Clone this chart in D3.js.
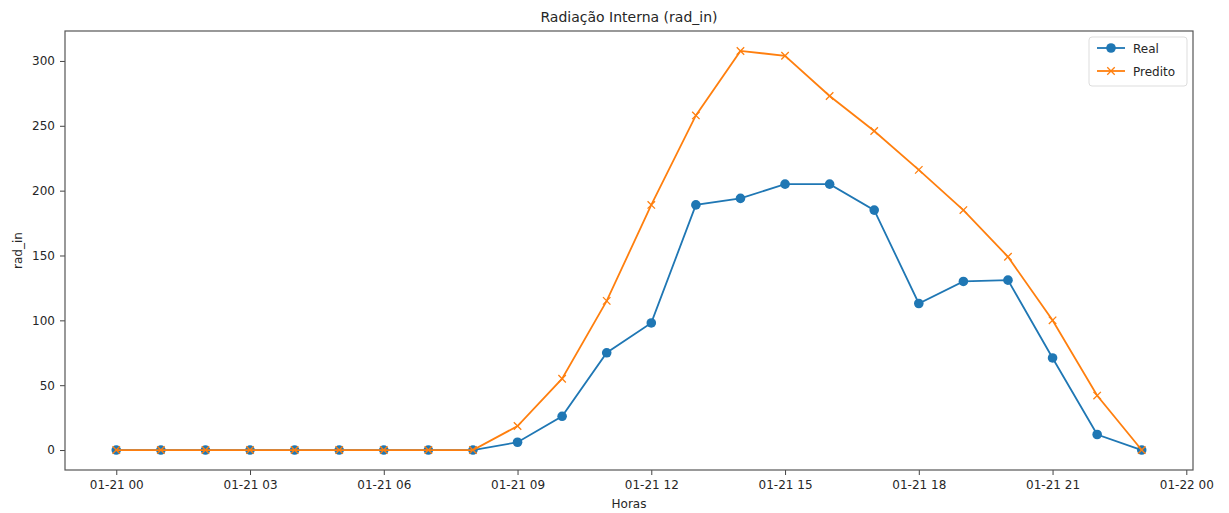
<!DOCTYPE html>
<html>
<head>
<meta charset="utf-8">
<script src="https://cdn.jsdelivr.net/npm/d3@7"></script>
<style>
body{margin:0;background:#fff}
text{font-family:"DejaVu Sans",sans-serif;fill:#262626}
</style>
</head>
<body>
<div id="chart"></div>
<script>
'use strict'
let hours=d3.range(0,24)
let real=[0,0,0,0,0,0,0,0,0,6,26,75,98,189,194,205,205,185,113,130,131,71,12,0]
let predito=[0,0,0,0,0,0,0,0,0,18.5,55,115,189,258,307.7,304,273,246,216,185,149,100,42,0]
let yTicks=[0,50,100,150,200,250,300]
let xTickHours=[0,3,6,9,12,15,18,21,24]
let seriesNames=['Real','Predito']
let colors=['#1f77b4','#ff7f0e']

let width=1229
let height=513
let margin={top:31,right:36,bottom:43,left:65}
let plotW=width-margin.left-margin.right
let plotH=height-margin.top-margin.bottom

let base=new Date(2021,0,21,0)
function toDate(h){return new Date(base.getTime()+h*3600000)}

let xPad=(23-0)*0.05
let x=d3.scaleTime().domain([toDate(-xPad),toDate(23+xPad)]).range([0,plotW])
let yMax=d3.max(predito)
let yPad=yMax*0.05
let y=d3.scaleLinear().domain([-yPad,yMax+yPad]).range([plotH,0])

let svg=d3.select('#chart').append('svg').attr('width',width).attr('height',height)
let g=svg.append('g').attr('transform','translate('+margin.left+','+margin.top+')')

let fmt=d3.timeFormat('%m-%d %H')
let xAxis=d3.axisBottom(x).tickValues(xTickHours.map(toDate)).tickFormat(fmt).tickSize(5).tickPadding(5)
let yAxis=d3.axisLeft(y).tickValues(yTicks).tickSize(5).tickPadding(5)

let gx=g.append('g').attr('transform','translate(0,'+plotH+')').call(xAxis)
let gy=g.append('g').call(yAxis)
gx.select('.domain').remove()
gy.select('.domain').remove()
svg.selectAll('.tick text').style('font-size','12px').style('font-family','"DejaVu Sans",sans-serif').attr('fill','#262626')
svg.selectAll('.tick line').attr('stroke','#444').attr('stroke-width',1)

let line=d3.line().x((d,i)=>x(toDate(hours[i]))).y(d=>y(d))

g.append('path').datum(real).attr('d',line).attr('fill','none').attr('stroke',colors[0]).attr('stroke-width',1.8)
g.selectAll('.dot').data(real).enter().append('circle').attr('class','dot')
.attr('cx',(d,i)=>x(toDate(hours[i]))).attr('cy',d=>y(d)).attr('r',4.8).attr('fill',colors[0])

g.append('path').datum(predito).attr('d',line).attr('fill','none').attr('stroke',colors[1]).attr('stroke-width',1.8)
let cross=d3.symbol().type(d3.symbolX).size(38)
g.selectAll('.cross').data(predito).enter().append('path').attr('class','cross')
.attr('transform',(d,i)=>'translate('+x(toDate(hours[i]))+','+y(d)+')')
.attr('d',cross()).attr('fill','none').attr('stroke',colors[1]).attr('stroke-width',1.3)

g.append('rect').attr('x',0).attr('y',0).attr('width',plotW).attr('height',plotH)
.attr('fill','none').attr('stroke','#555').attr('stroke-width',1.2)

svg.append('text').attr('x',margin.left+plotW/2).attr('y',22).attr('text-anchor','middle')
.style('font-size','14px').text('Radiação Interna (rad_in)')
svg.append('text').attr('x',margin.left+plotW/2).attr('y',508).attr('text-anchor','middle')
.style('font-size','12px').text('Horas')
svg.append('text').attr('text-anchor','middle').attr('transform','translate(22,'+(margin.top+plotH/2)+')rotate(-90)')
.style('font-size','12px').text('rad_in')

let lg=g.append('g').attr('transform','translate('+(plotW-104)+',6)')
lg.append('rect').attr('width',98).attr('height',49).attr('rx',3)
.attr('fill','#fff').attr('stroke','#ddd').attr('stroke-width',1)
let items=lg.selectAll('.legend').data(seriesNames).enter().append('g').attr('class','legend')
.attr('transform',(d,i)=>'translate(8,'+(11+i*23)+')')
items.append('line').attr('x1',0).attr('x2',28).attr('stroke',(d,i)=>colors[i]).attr('stroke-width',1.8)
items.filter((d,i)=>i==0).append('circle').attr('cx',14).attr('r',4.8).attr('fill',colors[0])
items.filter((d,i)=>i==1).append('path').attr('transform','translate(14,0)').attr('d',cross())
.attr('fill','none').attr('stroke',colors[1]).attr('stroke-width',1.3)
items.append('text').attr('x',36).attr('y',4.5).style('font-size','12px').text(d=>d)
</script>
</body>
</html>
